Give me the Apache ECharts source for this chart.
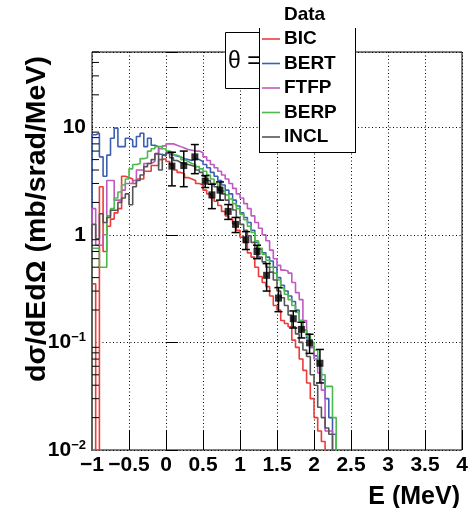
<!DOCTYPE html>
<html><head><meta charset="utf-8">
<script src="https://cdn.jsdelivr.net/npm/echarts@6/dist/echarts.min.js"></script>
<style>html,body{margin:0;padding:0;background:#fff}#c{width:474px;height:508px}</style>
</head><body><div id="c"></div>
<script>
// ---- histogram binning (E in MeV) ----
const binStart = -1.0;
const binWidth = 0.05;

// ---- model histograms, one value per 0.05 MeV bin starting at -1.0 MeV ----
const BIC = [0.35,0.001,2.8,0.7,1.2,1.4,1.6,1.75,3.5,3.4,3.3,3.0,3.3,3.3,3.9,3.9,4.4,4.4,5.0,5.1,
  4.8,4.5,4.0,3.8,3.7,3.4,3.3,3.2,3.0,2.9,2.6,2.4,2.2,2.05,1.87,1.65,1.5,1.4,1.27,1.1,
  0.95,0.85,0.68,0.62,0.5,0.41,0.36,0.33,0.27,0.22,0.2,0.16,0.15,0.14,0.105,0.09,0.07,0.055,0.042,0.03,
  0.02,0.015,0.012];
const BERT = [8.5,8.8,5.3,3.5,5.5,7.9,9.8,6.6,6.6,7.9,7.6,6.6,8.2,8.8,6.6,7.9,6.8,6.6,5.6,5.4,
  5.7,5.5,5.4,5.3,5.1,5.0,4.9,5.1,5.0,4.8,4.5,4.2,3.8,3.5,3.2,2.9,2.6,2.4,2.1,1.85,
  1.6,1.45,1.3,1.1,0.85,0.74,0.68,0.62,0.57,0.5,0.4,0.34,0.3,0.27,0.24,0.2,0.16,0.13,0.11,0.09,
  0.075,0.062,0.045,0.03,0.02,0.014];
const FTFP = [1.75,0.8,0.8,1.0,3.2,3.2,2.1,2.1,2.6,3.0,3.0,3.2,4.0,4.0,4.6,4.6,4.8,5.6,6.3,6.7,
  7.0,7.0,6.8,6.6,6.4,6.2,6.1,6.0,6.0,5.8,5.3,4.9,4.5,4.2,3.9,3.6,3.3,3.0,2.7,2.4,
  2.2,1.95,1.75,1.5,1.3,1.15,1.0,0.88,0.72,0.6,0.52,0.47,0.46,0.44,0.36,0.29,0.25,0.16,0.12,0.09,
  0.07,0.052,0.036,0.015,0.015];
const BERP = [0.75,0.75,0.5,0.5,1.5,1.75,2.2,2.5,2.9,3.3,4.1,4.5,4.6,5.1,5.2,6.0,6.3,6.6,6.6,6.3,
  6.0,5.8,5.5,5.3,5.0,4.8,4.6,4.5,4.3,4.1,3.9,3.6,3.3,3.0,2.8,2.55,2.35,2.15,1.95,1.75,
  1.55,1.38,1.2,1.05,0.88,0.75,0.66,0.58,0.5,0.44,0.38,0.32,0.28,0.25,0.22,0.19,0.16,0.13,0.115,0.1,
  0.085,0.062,0.05,0.039,0.039,0.02];
const INCL = [1.25,0.92,1.57,1.3,1.45,1.69,1.69,2.0,2.2,2.4,1.9,2.8,3.2,3.6,4.3,4.6,5.0,5.7,4.0,5.5,
  5.8,5.2,4.9,4.7,4.6,4.5,4.4,4.3,4.0,3.8,3.5,3.2,3.0,2.8,2.6,2.4,2.1,1.9,1.7,1.45,
  1.25,1.1,0.98,0.85,0.75,0.62,0.56,0.5,0.45,0.38,0.3,0.26,0.22,0.18,0.14,0.12,0.1,0.085,0.074,0.05,
  0.04,0.025,0.02,0.016,0.014];

// ---- measured data points ----
const dataE   = [0.08,0.24,0.39,0.53,0.62,0.73,0.84,0.94,1.08,1.23,1.36,1.52,1.72,1.83,1.94,2.08];
const dataV   = [4.35,4.4,5.3,3.15,2.35,2.6,1.65,1.25,0.9,0.7,0.42,0.258,0.166,0.132,0.099,0.064];
const dataErr = [1.5,1.6,1.6,0.4,0.6,0.5,0.26,0.2,0.17,0.1,0.12,0.065,0.03,0.022,0.02,0.022];

// ---- axis tick labels ----
const xTickValues = [-1,-0.5,0,0.5,1,1.5,2,2.5,3,3.5,4];
const xTickLabels = ['\u22121','\u22120.5','0','0.5','1','1.5','2','2.5','3','3.5','4'];
const yDecades = [0.01,0.1,1,10];
const yDecadeLabels = ['10{s|\u22122}','10{s|\u22121}','1','10'];

const seriesNames = ['BIC','BERT','FTFP','BERP','INCL'];
const seriesVals = [BIC, BERT, FTFP, BERP, INCL];
const colors = ['#ec3b3b','#3b5fb2','#c05ac0','#4cba4c','#555555'];

const FONT = "'Liberation Sans', Arial, Helvetica, sans-serif";
const FLOOR = 0.001;

function histPoints(vals){
  const pts = [[binStart, FLOOR]];
  vals.forEach((v,i)=>pts.push([+(binStart+i*binWidth).toFixed(3), v]));
  const end = +(binStart+vals.length*binWidth).toFixed(3);
  pts.push([end, vals[vals.length-1]]);
  pts.push([end, FLOOR]);
  return pts;
}

const minorVals = [];
[0.01,0.1,1,10].forEach(d=>{ for(let k=2;k<=9;k++){ const v=+(d*k).toPrecision(3); if(v<=50) minorVals.push(v);} });

const chart = echarts.init(document.getElementById('c'), null, {renderer:'canvas'});

const series = seriesVals.map((vals,i)=>({
  name: seriesNames[i], type:'line', step:'end', data: histPoints(vals),
  showSymbol:false, symbol:'none', clip:true, silent:true,
  lineStyle:{color:colors[i], width:1.6}, z: 3+i
}));

series.push({
  type:'custom', name:'DataErr', silent:true, clip:true, z:20,
  data: dataE.map((e,i)=>[e, dataV[i], dataErr[i]]),
  encode:{x:0, y:1},
  renderItem(params, api){
    const x=api.value(0), y=api.value(1), e=api.value(2);
    const t=api.coord([x, y+e]), b=api.coord([x, Math.max(y-e, 1e-4)]);
    const w=4, st={stroke:'#000', lineWidth:1.5};
    return {type:'group', children:[
      {type:'line', shape:{x1:t[0],y1:t[1],x2:b[0],y2:b[1]}, style:st},
      {type:'line', shape:{x1:t[0]-w,y1:t[1],x2:t[0]+w,y2:t[1]}, style:st},
      {type:'line', shape:{x1:b[0]-w,y1:b[1],x2:b[0]+w,y2:b[1]}, style:st}
    ]};
  }
});
series.push({
  type:'scatter', name:'Data', silent:true, z:21,
  data: dataE.map((e,i)=>[e, dataV[i]]),
  symbol:'rect', symbolSize:7, itemStyle:{color:'#000'}
});
series.push({
  type:'custom', name:'minorTicks', silent:true, z:22,
  data: minorVals.map(v=>[-1, v]),
  encode:{x:0, y:1},
  renderItem(params, api){
    const p=api.coord([api.value(0), api.value(1)]);
    return {type:'line', shape:{x1:p[0],y1:p[1],x2:p[0]+7,y2:p[1]}, style:{stroke:'#000', lineWidth:1}};
  }
});

const legendY = [39, 63.5, 88, 112.5, 137];
const graphics = [
  {type:'rect', z:100, shape:{x:225.5,y:32.5,width:40,height:56}, style:{fill:'#fff', stroke:'#000', lineWidth:1}},
  {type:'text', z:101, x:228, y:62, style:{text:'\u03b8 =', font:'23px '+FONT, fill:'#000', verticalAlign:'middle', textAlign:'left'}},
  {type:'rect', z:102, shape:{x:259.5,y:28,width:96.5,height:125}, style:{fill:'#fff'}},
  {type:'line', z:103, shape:{x1:259.5,y1:28,x2:259.5,y2:153}, style:{stroke:'#000', lineWidth:1}},
  {type:'line', z:103, shape:{x1:355.5,y1:28,x2:355.5,y2:153}, style:{stroke:'#000', lineWidth:1}},
  {type:'line', z:103, shape:{x1:259.5,y1:152.5,x2:355.5,y2:152.5}, style:{stroke:'#000', lineWidth:1}},
  {type:'text', z:104, x:284, y:15, style:{text:'Data', font:'bold 19px '+FONT, fill:'#000', verticalAlign:'middle'}},
  {type:'text', z:104, x:37, y:219, rotation:Math.PI/2, style:{text:'d\u03c3/dEd\u03a9 (mb/srad/MeV)', font:'bold 28.5px '+FONT, fill:'#000', textAlign:'center', verticalAlign:'middle'}},
  {type:'text', z:104, x:460, y:497, style:{text:'E (MeV)', font:'bold 25px '+FONT, fill:'#000', textAlign:'right', verticalAlign:'middle'}}
];
seriesNames.forEach((n,i)=>{
  graphics.push({type:'line', z:104, shape:{x1:262,y1:legendY[i],x2:280,y2:legendY[i]}, style:{stroke:colors[i], lineWidth:1.6}});
  graphics.push({type:'text', z:104, x:284, y:legendY[i], style:{text:n, font:'bold 19px '+FONT, fill:'#000', verticalAlign:'middle'}});
});

chart.setOption({
  animation:false,
  backgroundColor:'#fff',
  grid:{left:92, top:52, width:370, height:398, show:true, borderColor:'#000', borderWidth:1, backgroundColor:'transparent'},
  xAxis:{
    type:'value', min:-1, max:4, interval:0.5,
    axisLine:{show:false},
    axisTick:{show:true, inside:true, length:19, lineStyle:{color:'#000', width:1}},
    splitLine:{show:true, lineStyle:{color:'#000', width:1, type:[1,2.5]}},
    axisLabel:{margin:5, color:'#000', fontSize:21, fontWeight:'bold', fontFamily:FONT,
      formatter:v=>{ const k=xTickValues.findIndex(t=>Math.abs(t-v)<1e-9); return k>=0?xTickLabels[k]:''; }}
  },
  yAxis:{
    type:'log', logBase:10, min:0.01, max:50,
    axisLine:{show:false},
    axisTick:{show:true, inside:true, length:12, lineStyle:{color:'#000', width:1}},
    splitLine:{show:true, lineStyle:{color:'#000', width:1, type:[1,2.5]}},
    axisLabel:{margin:6, color:'#000', fontSize:21, fontWeight:'bold', fontFamily:FONT,
      rich:{s:{fontSize:13, fontWeight:'bold', fontFamily:FONT, color:'#000', padding:[0,0,10,0]}},
      formatter:v=>{ const k=yDecades.findIndex(t=>Math.abs(Math.log10(t)-Math.log10(v))<1e-6); return k>=0?yDecadeLabels[k]:''; }}
  },
  graphic: graphics,
  series: series
});
</script>
</body></html>
